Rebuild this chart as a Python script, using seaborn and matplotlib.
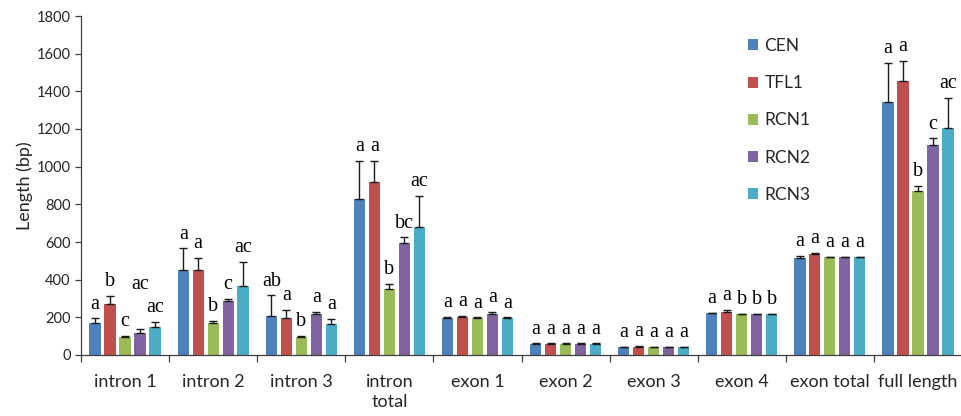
import matplotlib
matplotlib.use("Agg")
import matplotlib.pyplot as plt
import matplotlib.ticker as mticker
import numpy as np
import pandas as pd
import seaborn as sns

# Gene-structure lengths (bp) for the five PEBP family genes
categories = ["intron 1", "intron 2", "intron 3", "intron\ntotal", "exon 1",
              "exon 2", "exon 3", "exon 4", "exon total", "full length"]
genes = ["CEN", "TFL1", "RCN1", "RCN2", "RCN3"]

cen_mean = [168, 451, 209, 828, 198, 60, 41, 221, 517, 1345]
tfl1_mean = [269, 451, 195, 917, 203, 60, 45, 227, 536, 1455]
rcn1_mean = [97, 168, 97, 349, 198, 60, 41, 216, 520, 872]
rcn2_mean = [118, 289, 216, 593, 216, 60, 41, 216, 520, 1115]
rcn3_mean = [149, 366, 167, 680, 198, 60, 41, 216, 520, 1205]

cen_err = [27, 115, 108, 202, 3, 2, 2, 3, 10, 207]
tfl1_err = [46, 66, 44, 113, 4, 2, 5, 12, 5, 106]
rcn1_err = [5, 14, 3, 28, 2, 2, 2, 2, 2, 25]
rcn2_err = [20, 10, 14, 32, 14, 2, 2, 2, 2, 35]
rcn3_err = [26, 128, 23, 164, 2, 2, 2, 2, 2, 160]

# Significance letters, one list per gene, in category order
cen_sig = ["a", "a", "ab", "a", "a", "a", "a", "a", "a", "a"]
tfl1_sig = ["b", "a", "a", "a", "a", "a", "a", "a", "a", "a"]
rcn1_sig = ["c", "b", "b", "b", "a", "a", "a", "b", "a", "b"]
rcn2_sig = ["ac", "c", "a", "bc", "a", "a", "a", "b", "a", "c"]
rcn3_sig = ["ac", "ac", "a", "ac", "a", "a", "a", "b", "a", "ac"]

means = [cen_mean, tfl1_mean, rcn1_mean, rcn2_mean, rcn3_mean]
errs = [cen_err, tfl1_err, rcn1_err, rcn2_err, rcn3_err]
sigs = [cen_sig, tfl1_sig, rcn1_sig, rcn2_sig, rcn3_sig]

palette = ["#4F81BD", "#C0504D", "#9BBB59", "#8064A2", "#4BACC6"]

rows = []
for g, m in zip(genes, means):
    for c, v in zip(categories, m):
        rows.append({"region": c, "gene": g, "length": v})
df = pd.DataFrame(rows)

sns.set_style("ticks")
plt.rcParams["font.family"] = ["Lato", "DejaVu Sans"]
text_color = "#262626"

fig = plt.figure(figsize=(9.62, 4.16), dpi=100)
W, H = 962, 416
ax = fig.add_axes([81 / W, 1 - 355 / H, (962 - 81) / W, 339 / H])

sns.barplot(data=df, x="region", y="length", hue="gene", order=categories,
            hue_order=genes, palette=palette, width=0.85, gap=0.25,
            errorbar=None, linewidth=0, saturation=1, ax=ax)

bar_groups = list(ax.containers)
labels = []
for gi, cont in enumerate(bar_groups):
    xs = [p.get_x() + p.get_width() / 2 for p in cont.patches]
    hs = [p.get_height() for p in cont.patches]
    e = errs[gi]
    ax.errorbar(xs, hs, yerr=[np.zeros(len(e)), e], fmt="none", ecolor="#1a1a1a",
                elinewidth=1.0, capsize=3.2, capthick=1.0, zorder=3)
    row = []
    for x, h, ee, s in zip(xs, hs, e, sigs[gi]):
        t = ax.annotate(s, (x, h + ee), xytext=(0, 7), textcoords="offset points",
                        ha="center", va="baseline", fontsize=14.5,
                        family=["Liberation Serif", "DejaVu Serif"], color="black")
        row.append(t)
    labels.append(row)

ax.set_xlim(-0.5, 9.5)
ax.set_ylim(0, 1800)
ax.yaxis.set_major_locator(mticker.MultipleLocator(200))
ax.set_xticks(range(len(categories)))
ax.set_xticklabels(categories, fontsize=13, color=text_color, linespacing=1.3)
ax.set_xticks(np.arange(-0.5, 10, 1.0), minor=True)
ax.tick_params(axis="x", which="major", length=0, pad=14)
ax.tick_params(axis="x", which="minor", length=5, width=0.9, direction="out", color="#404040")
ax.tick_params(axis="y", length=4.5, width=0.9, direction="out", color="#404040",
               labelsize=10.5, labelcolor=text_color, pad=3)
ax.set_xlabel("")
ax.set_ylabel("Length (bp)", fontsize=13, color=text_color)
ax.yaxis.set_label_coords(-0.054, 0.5)
for side in ("top", "right"):
    ax.spines[side].set_visible(False)
for side in ("left", "bottom"):
    ax.spines[side].set_color("#404040")
    ax.spines[side].set_linewidth(0.9)

leg = ax.legend(loc="upper left", bbox_to_anchor=(748 / W, 1 - 38 / H),
                bbox_transform=fig.transFigure, frameon=False, fontsize=12.5,
                handlelength=0.6, handleheight=0.6, handletextpad=0.35,
                labelspacing=1.22, borderpad=0, borderaxespad=0)
for t in leg.get_texts():
    t.set_color(text_color)

# Lift a letter when it collides with its right-hand neighbour in the group
fig.canvas.draw()
renderer = fig.canvas.get_renderer()
for ci in range(len(categories)):
    for gi in range(len(genes) - 1, 0, -1):
        right = labels[gi][ci]
        left = labels[gi - 1][ci]
        br = right.get_window_extent(renderer)
        bl = left.get_window_extent(renderer)
        if bl.overlaps(br):
            dy_px = br.y1 - bl.y0 + 4
            ox, oy = left.xyann
            left.xyann = (ox, oy + dy_px * 72 / fig.dpi)
            fig.canvas.draw()

fig.savefig("out.png", dpi=100)
